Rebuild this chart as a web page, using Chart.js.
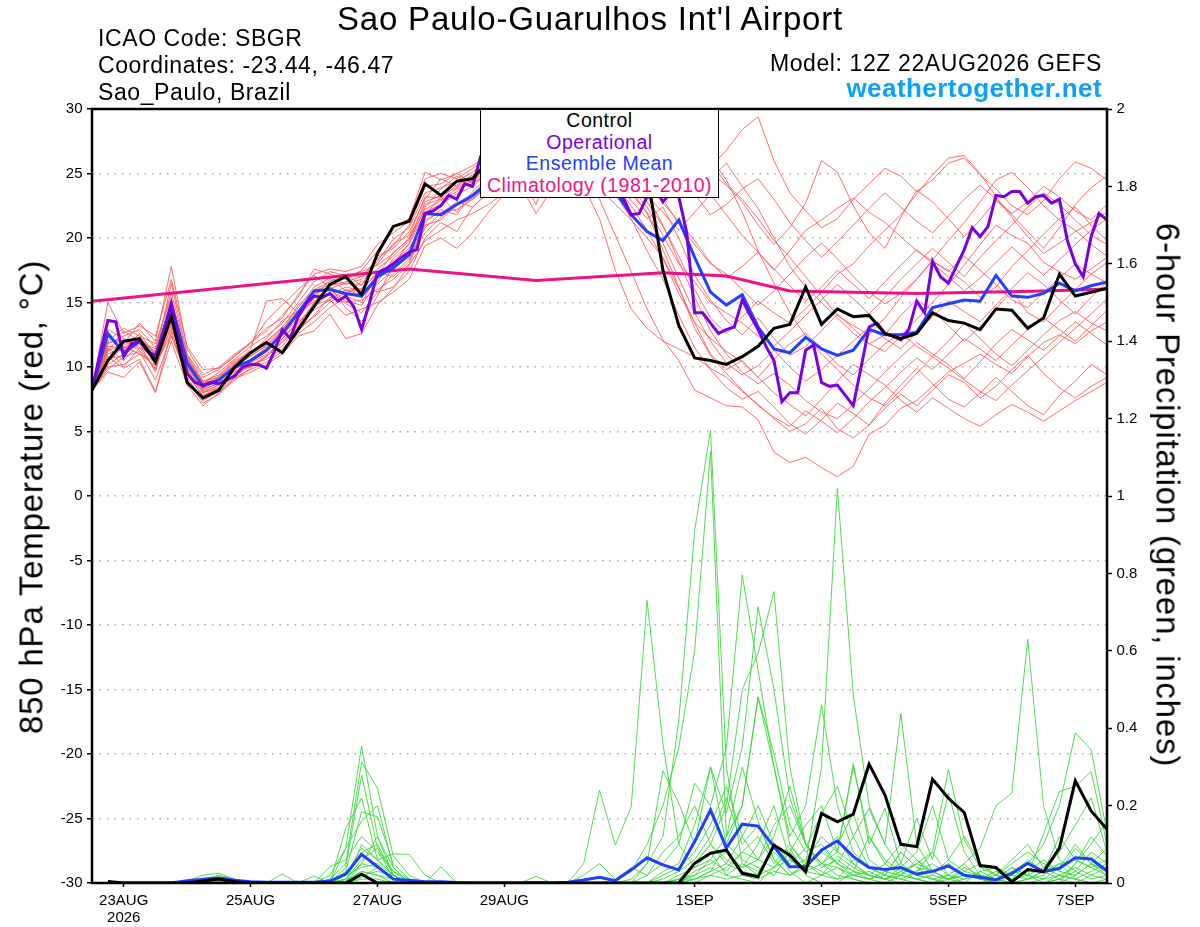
<!DOCTYPE html>
<html>
<head>
<meta charset="utf-8">
<script src="https://cdn.jsdelivr.net/npm/chart.js@4/dist/chart.umd.min.js"></script>
<style>
  html,body{margin:0;padding:0;background:#fff;}
  #wrap{position:relative;width:1200px;height:927px;background:#fff;overflow:hidden;}
  #c{position:absolute;left:0;top:0;}
  .t{position:absolute;font-family:'Liberation Sans',Arial,Helvetica,sans-serif;white-space:nowrap;line-height:1;color:#000;}
  #title{font-size:33px;letter-spacing:0.8px;left:590px;top:2px;transform:translateX(-50%);}
  .hl{font-size:23px;letter-spacing:0.6px;left:98px;}
  .hr{font-size:23px;letter-spacing:0.6px;right:98px;}
  #site{font-size:26px;font-weight:bold;letter-spacing:0.45px;color:#08a2fa;right:98px;top:75px;}
  #legend{position:absolute;left:480px;top:109px;width:239px;height:89px;box-sizing:border-box;border:1.5px solid #000;background:#fff;
          font-family:'Liberation Sans',Arial,Helvetica,sans-serif;font-size:19.5px;letter-spacing:0.5px;line-height:21.67px;text-align:center;}
  .ytl{font-size:33px;letter-spacing:0.8px;}
</style>
</head>
<body>
<div id="wrap">
  <canvas id="c" width="1200" height="927"></canvas>
  <div class="t" id="title">Sao Paulo-Guarulhos Int'l Airport</div>
  <div class="t hl" style="top:27.2px">ICAO Code: SBGR</div>
  <div class="t hl" style="top:53.8px">Coordinates: -23.44, -46.47</div>
  <div class="t hl" style="top:80.5px">Sao_Paulo, Brazil</div>
  <div class="t hr" style="top:51.5px">Model: 12Z 22AUG2026 GEFS</div>
  <div class="t" id="site">weathertogether.net</div>
  <div id="legend">
    <div style="color:#000">Control</div>
    <div style="color:#7a00dc">Operational</div>
    <div style="color:#2040ff">Ensemble Mean</div>
    <div style="color:#ee1288">Climatology (1981-2010)</div>
  </div>
  <div class="t ytl" style="left:31px;top:496.5px;transform:translate(-50%,-50%) rotate(-90deg);">850 hPa Temperature (red, °C)</div>
  <div class="t ytl" style="left:1168px;top:495px;transform:translate(-50%,-50%) rotate(90deg);">6-hour Precipitation (green, inches)</div>
</div>
<script>
// ---------------- DATA ----------------
// time axis: hours after 12Z 22AUG2026 (ensemble every 6 h, operational every 3 h)
const xTickHours  = [12, 60, 108, 156, 228, 276, 324, 372];
const xTickLabels = [['23AUG','2026'], '25AUG', '27AUG', '29AUG', '1SEP', '3SEP', '5SEP', '7SEP'];
const yLeftRange  = [-30, 30];
const yRightRange = [0, 2];

// 850 hPa temperature (°C), 6-hourly
const controlTemp = [8.2,10.5,12.0,12.2,10.4,13.9,8.8,7.6,8.2,10.0,
  11.1,11.9,11.1,12.9,14.7,16.4,17.0,15.6,18.8,20.9,
  21.3,24.2,23.3,24.4,24.6,26.0,26.8,27.2,27.0,27.5,
  27.8,27.3,27.0,26.8,26.3,25.0,17.5,13.2,10.7,10.5,
  10.2,10.8,11.6,13.0,13.3,16.2,13.3,14.5,13.9,14.0,
  12.6,12.2,12.6,14.2,13.6,13.4,12.9,14.5,14.4,13.0,
  13.8,17.2,15.5,15.8,16.1];
const ensMeanTemp = [8.2,12.6,11.1,12.0,10.7,14.9,10.3,8.5,9.0,10.0,
  10.5,11.3,12.6,14.2,15.9,16.0,15.7,15.5,17.0,17.7,
  18.7,21.9,21.8,22.6,23.3,24.3,25.0,25.4,25.6,25.8,
  25.7,25.3,24.6,23.6,21.8,20.5,19.8,21.4,18.5,15.8,
  14.8,15.6,13.1,11.4,11.1,12.3,11.4,10.9,11.3,12.9,
  12.5,12.5,12.7,14.6,14.9,15.2,15.1,17.1,15.5,15.4,
  15.7,16.5,15.9,16.3,16.6];
// operational run, 3-hourly
const operTemp = [8.2,11.0,13.6,13.5,10.8,11.8,12.0,11.2,10.9,12.5,
  14.8,12.0,9.5,8.8,8.6,8.8,8.7,9.0,9.3,10.0,
  10.2,10.2,9.9,11.2,12.9,12.2,13.9,14.9,15.5,15.4,
  15.7,15.1,15.5,14.7,12.9,15.0,17.3,17.6,18.0,18.5,
  18.9,19.1,21.9,22.1,22.5,23.3,23.0,24.2,24.0,26.3,
  26.8,27.2,27.6,27.9,28.1,27.6,27.0,27.4,27.9,27.6,
  27.0,26.4,25.8,25.2,24.4,24.0,23.6,23.1,21.8,21.9,
  23.2,24.0,22.8,23.5,23.2,20.4,14.2,14.2,13.4,12.6,
  12.9,13.1,15.2,14.0,12.9,11.6,10.5,7.3,8.0,8.0,
  11.3,11.7,8.8,8.5,8.6,7.8,7.0,10.0,13.1,13.4,
  12.6,12.4,12.1,12.9,15.1,14.2,18.2,17.0,16.5,17.8,
  19.1,20.8,20.1,20.9,23.3,23.2,23.6,23.6,22.7,23.2,
  23.3,22.7,23.0,19.8,18.0,17.0,20.1,21.9,21.4];
// climatology 1981-2010 (hours, °C)
const climHours  = [0, 120, 168, 216, 240, 264, 312, 360, 384];
const climValues = [15.1, 17.6, 16.7, 17.3, 17.05, 15.9, 15.7, 15.9, 16.05];

// ensemble members, 850 hPa temperature
const tm01 = [8.2,11.8,12.4,12.9,11.5, 15.8,10.9,8.9,9.4,10.5, 11.2,12.0,13.1,14.6,16.2, 16.9,16.4,16.8,18.2,19.9, 20.8,23.5,23.9,24.4,25.1, 26.0,26.8,27.5,27.9,28.3, 28.0,27.4,27.8,28.5,28.9, 28.0,27.1,28.2,27.0,25.5, 26.8,28.4,29.4,26.0,23.5, 22.1,20.8,21.5,23.0,24.2, 25.4,24.8,23.6,24.5,25.8, 26.2,24.9,23.8,22.5,21.8, 22.9,24.6,25.9,25.4,24.5];
const tm02 = [8.2,10.2,11.0,12.2,10.1, 13.0,9.8,8.0,8.6,9.9, 10.6,11.5,12.4,13.8,15.4, 16.0,15.1,14.8,16.6,18.4, 19.5,22.0,22.6,23.4,24.0, 25.0,25.6,26.2,26.9,27.4, 27.8,28.0,27.2,26.5,25.8, 24.2,23.0,21.1,19.5,18.0, 17.2,16.0,14.8,15.9,17.2, 18.5,19.6,18.4,17.0,15.8, 14.9,15.7,16.8,18.2,17.5, 16.6,15.4,16.2,17.8,19.0, 20.3,21.5,22.4,21.0,19.8];
const tm03 = [8.2,12.9,12.2,11.5,10.8, 16.5,11.0,9.2,9.8,10.9, 11.8,13.6,14.8,16.0,17.1, 16.2,14.6,13.5,15.5,17.9, 19.0,21.8,23.2,22.0,23.6, 24.8,25.3,24.2,25.6,26.4, 26.0,25.1,23.0,20.2,17.4, 14.5,12.1,10.5,8.2,7.6, 7.0,6.9,5.9,3.4,2.6, 3.0,2.2,1.5,2.3,4.8, 5.5,6.8,7.4,8.5,9.6, 10.3,11.0,10.2,9.5,10.8, 11.9,12.5,11.8,12.8,13.5];
const tm04 = [8.2,11.5,10.5,11.8,9.6, 14.2,10.0,8.2,8.8,9.7, 10.0,10.8,12.0,13.2,15.0, 15.6,16.2,15.9,17.4,17.0, 18.2,21.0,21.4,22.6,23.0, 24.0,24.9,25.7,26.1,26.5, 26.8,26.0,25.2,24.6,22.9, 21.5,22.4,20.0,17.1,15.2, 13.6,12.5,13.8,12.2,10.9, 11.6,12.8,14.1,13.0,11.8, 12.5,14.0,15.2,14.4,13.2, 12.0,13.1,14.5,15.9,14.2, 13.5,14.8,16.0,17.2,18.1];
const tm05 = [8.2,9.8,10.8,11.2,9.0, 12.4,9.2,7.4,8.1,9.2, 9.8,10.4,11.2,12.6,13.5, 14.6,15.4,16.7,15.8,16.2, 17.4,20.0,21.2,20.5,22.4, 23.5,24.6,25.0,25.8,26.0, 25.2,24.8,24.1,23.4,21.5, 19.0,16.8,14.0,11.5,9.8, 8.4,7.5,8.1,6.9,5.6, 4.8,5.9,7.2,6.4,5.5, 6.8,7.9,7.0,8.2,9.4, 8.8,7.6,8.5,9.8,10.9, 9.5,8.4,7.6,8.5,9.2];
const tm06 = [8.2,12.3,11.8,13.4,12.0, 17.8,11.4,9.4,10.0,11.0, 11.9,12.8,14.0,15.4,17.6, 17.2,16.8,17.5,19.0,20.8, 21.5,25.1,24.5,25.0,24.2, 25.2,26.3,27.0,27.6,27.0, 26.5,27.2,28.1,27.5,26.4, 26.9,25.8,24.5,23.2,25.0, 24.1,22.8,21.0,19.5,20.8, 22.7,26.0,25.1,22.5,20.4, 19.2,21.6,23.7,22.8,21.5, 20.1,21.4,22.9,21.8,20.5, 19.2,20.8,22.6,23.9,24.8];
const tm07 = [8.2,10.8,9.9,10.6,8.1, 12.0,8.6,7.0,8.0,9.1, 9.6,10.2,11.0,12.4,12.8, 14.1,12.2,12.6,14.8,16.1, 17.9,19.8,20.6,21.4,21.9, 22.6,23.5,24.1,21.9,23.8, 24.9,24.0,21.5,17.5,14.5, 13.0,12.0,11.4,10.8,9.9, 9.2,8.1,7.1,6.0,5.0, 5.6,6.8,5.2,4.5,5.5, 7.2,8.6,9.9,8.7,7.5, 6.9,8.0,9.2,8.1,7.0, 6.3,7.8,8.9,10.2,9.4];
const tm08 = [8.2,11.2,12.8,12.0,11.2, 15.0,10.4,8.5,9.2,10.2, 11.4,15.1,15.3,14.2,16.0, 16.6,17.2,16.3,18.6,19.2, 20.5,23.0,24.6,24.0,24.8, 25.6,26.4,26.0,26.8,27.4, 27.2,26.6,26.0,25.1,24.0, 22.8,20.9,18.6,16.0,13.8, 12.6,13.9,15.1,14.2,13.4, 14.5,15.8,17.2,18.0,19.4, 20.6,21.8,23.4,24.9,26.2, 26.4,25.0,23.2,21.6,20.1, 18.8,19.6,20.5,21.2,22.0];
const tm09 = [8.2,10.0,10.2,11.0,10.1, 12.6,9.4,7.8,8.4,9.5, 10.3,11.0,11.9,13.0,13.9, 15.0,15.8,16.0,16.4,17.6, 18.6,20.4,21.6,22.6,23.1, 24.0,24.5,25.2,25.0,25.6, 26.1,25.4,24.9,24.0,23.6, 23.3,21.0,18.2,15.4,12.8, 11.0,9.6,8.7,9.5,8.6, 7.4,6.5,6.0,7.1,8.3, 9.6,10.8,11.9,11.0,10.2, 9.1,10.4,11.8,12.9,12.1, 11.3,12.4,13.5,12.6,11.7];
const tm10 = [8.2,11.0,11.4,12.6,10.9, 13.6,10.8,8.8,9.0,10.0, 10.9,11.6,12.8,14.8,15.9, 16.4,17.0,17.4,17.9,18.8, 20.0,22.6,23.0,23.8,24.4, 25.3,25.9,26.6,27.0,27.8, 27.4,26.9,27.5,28.0,27.3, 26.8,27.0,26.3,25.4,24.6, 25.8,24.0,22.3,20.0,17.8, 16.2,15.0,13.8,12.6,11.8, 11.2,12.4,13.7,15.0,16.4, 17.9,19.5,21.0,20.2,19.6, 18.1,17.4,16.8,17.6,18.5];
const tm11 = [8.2,9.6,9.2,10.4,8.0, 12.8,9.0,7.2,7.9,9.0, 9.9,10.8,12.2,13.6,14.4, 15.2,14.0,14.5,15.0,15.8, 16.8,19.4,20.0,19.2,20.4, 22.0,23.4,24.4,25.1,24.8, 25.5,24.6,23.8,22.6,21.4, 20.0,18.5,16.1,13.4,11.0, 9.8,10.5,9.2,8.0,7.1, 6.2,7.5,8.9,10.2,9.4, 8.6,7.4,6.5,7.6,6.8, 6.0,5.4,6.3,7.1,6.5, 5.8,6.6,7.4,8.1,8.8];
const tm12 = [8.2,12.0,13.0,12.4,11.8, 15.4,10.1,8.1,8.6,9.8, 10.5,11.4,12.5,14.0,15.3, 16.8,15.9,16.1,17.2,18.0, 19.6,22.4,23.8,24.8,24.2, 25.0,26.0,26.5,27.2,27.9, 28.2,27.6,26.8,25.6,24.5, 23.2,22.0,20.6,22.0,23.4, 21.8,20.2,18.9,17.5,19.0, 20.6,21.4,22.3,23.1,22.0, 21.2,20.1,19.0,18.2,17.4, 18.6,17.5,16.4,15.2,14.6, 15.8,16.9,18.0,17.2,16.5];
const tm13 = [8.2,11.6,11.5,12.0,11.4, 14.6,10.6,8.7,9.6,10.6, 11.6,12.4,13.4,15.0,16.6, 17.4,17.1,17.0,18.4,19.4, 21.0,24.0,24.2,25.0,25.6, 26.4,27.2,27.8,28.2,28.6, 28.0,27.7,28.4,29.0,28.1, 27.4,28.8,29.2,27.6,25.9, 24.2,23.0,21.5,19.8,18.5, 17.0,15.5,14.0,13.2,12.5, 13.8,15.4,16.8,18.3,19.8, 21.2,22.8,24.5,25.1,23.9, 22.5,21.4,20.6,19.5,18.6];
const tm14 = [8.2,10.4,11.6,11.0,10.4, 13.4,9.6,8.0,8.4,9.4, 10.2,10.6,11.4,12.8,14.0, 15.4,15.0,15.2,16.0,16.8, 18.0,20.8,21.9,22.8,22.4, 23.6,24.2,24.8,22.6,25.9, 26.3,25.8,25.0,24.0,22.5, 20.6,18.4,15.7,13.5,12.2, 11.2,10.4,9.2,10.6,11.8, 12.6,11.5,10.2,9.4,10.6, 11.8,12.6,11.6,10.8,12.0, 13.4,12.2,11.0,10.1,11.3, 12.5,13.6,14.3,13.4,12.8];
const tm15 = [8.2,15.0,12.6,13.2,12.4, 16.8,11.6,9.8,9.9,10.8, 11.9,13.0,13.8,15.6,17.2, 17.6,17.4,17.8,19.5,20.4, 21.3,24.6,25.0,24.6,25.4, 26.2,26.8,27.4,27.1,27.6, 27.9,28.3,27.6,26.9,26.0, 25.1,24.0,26.5,27.5,26.2, 24.5,22.0,19.0,16.5,14.2, 12.4,11.0,9.8,8.6,7.6, 7.0,8.2,9.5,10.8,9.9, 9.0,8.1,7.4,8.6,9.7, 10.8,11.9,13.0,14.1,15.3];
const tm16 = [8.2,11.4,10.0,11.5,9.8, 13.8,9.9,8.3,8.7,9.6, 10.4,11.2,12.2,13.4,14.8, 15.2,16.0,15.6,17.0,18.2, 19.2,21.4,22.0,22.2,23.0, 24.2,25.0,25.4,25.9,26.2, 26.6,26.2,25.6,25.0,23.9, 22.4,20.2,18.0,16.6,15.0, 14.2,13.4,12.4,11.6,12.8, 14.0,15.2,16.4,15.3,14.1, 15.4,16.8,18.0,19.2,18.1, 17.0,18.5,19.8,21.0,22.4, 23.5,22.6,21.4,20.2,19.5];
const tm17 = [8.2,10.6,10.9,11.9,10.6, 14.0,10.2,8.4,9.1,10.1, 10.8,11.7,12.9,14.4,15.7, 16.2,15.5,15.0,17.1,18.9, 19.9,22.2,22.9,23.6,24.5, 25.4,26.0,26.9,27.3,27.0, 26.4,25.9,25.3,24.4,23.4, 22.0,19.6,16.9,14.2,12.0, 10.3,9.4,10.1,11.3,10.0, 8.9,9.8,10.9,12.0,13.1, 12.2,11.4,12.7,13.9,15.1, 14.3,13.5,14.8,16.1,17.3, 16.4,15.2,14.1,15.4,16.6];
const tm18 = [8.2,12.5,11.3,12.2,11.0, 15.2,10.7,8.6,9.3,10.4, 11.1,12.2,13.6,14.3,15.6, 16.3,16.6,17.0,18.0,19.6, 20.2,23.2,23.1,24.1,24.9, 25.8,26.6,27.3,27.8,28.0, 27.6,28.2,27.8,27.0,26.2, 25.6,26.3,25.0,23.4,21.8, 22.6,23.8,24.6,23.0,21.2, 19.8,18.5,19.7,21.0,22.3, 23.5,22.4,21.3,20.4,21.7, 23.0,24.1,23.0,21.9,22.8, 24.0,23.2,22.1,21.4,22.6];
const tm19 = [8.2,11.9,12.1,11.3,9.9, 13.2,9.5,7.7,8.3,9.3, 10.1,10.9,11.6,13.1,14.6, 15.8,14.9,14.2,15.8,17.2, 18.4,21.2,22.2,21.8,23.4, 24.6,25.4,26.0,26.5,27.1, 26.9,26.2,25.5,24.9,23.7, 21.9,19.1,16.2,13.0,10.9, 9.5,8.2,7.0,6.1,5.4, 6.6,5.8,4.9,6.0,7.3, 8.4,9.6,10.7,9.8,11.0, 12.2,11.4,10.5,11.7,12.9, 13.8,12.9,12.0,13.2,14.4];
const tm20 = [8.2,11.3,11.7,12.3,11.1, 14.4,10.5,8.9,9.2,10.3, 11.0,11.9,13.0,14.1,15.1, 16.1,16.5,16.4,17.6,18.6, 19.8,22.8,23.3,23.9,24.6, 25.5,26.1,26.8,27.4,27.7, 27.1,26.7,26.3,25.4,24.8, 24.1,22.7,21.3,19.8,18.1, 16.9,17.8,18.9,17.6,16.3, 15.1,16.2,17.5,16.4,15.3, 16.6,17.9,19.1,18.0,17.0, 15.9,16.9,18.1,19.3,18.2, 17.1,18.3,19.5,20.6,21.5];
const tempMembers = [tm01,tm02,tm03,tm04,tm05,tm06,tm07,tm08,tm09,tm10,tm11,tm12,tm13,tm14,tm15,tm16,tm17,tm18,tm19,tm20];

// 6-hour precipitation (inches)
const controlPrecip = [null,0.004,0,0,0,0,0,0.005,0.01,0.003,
  0,0,0,0,0,0,0,0.023,0,0,
  0,0,0,0,0,0,0,0,0,0,
  0,0,0,0,0,0,0,0,0.051,0.077,
  0.085,0.025,0.016,0.098,0.072,0.029,0.18,0.158,0.178,0.307,
  0.227,0.10,0.094,0.268,0.219,0.182,0.045,0.04,0.003,0.035,
  0.029,0.09,0.264,0.186,0.139];
const ensMeanPrecip = [null,0.002,0,0,0,0,0.006,0.01,0.013,0.007,
  0.003,0.002,0.002,0.002,0.002,0.005,0.023,0.074,0.042,0.01,
  0.007,0.003,0.003,0.001,0,0,0,0,0.001,0,
  0.002,0.008,0.015,0.006,0.034,0.065,0.047,0.034,0.107,0.189,
  0.09,0.152,0.147,0.094,0.042,0.042,0.085,0.109,0.068,0.04,
  0.035,0.04,0.023,0.03,0.044,0.02,0.015,0.008,0.025,0.051,
  0.029,0.038,0.065,0.062,0.031];

const pm01 = [null,0,0,0,0,0,0,0.01,0.02,0.01, 0,0,0,0,0,0.02,0.09,0.354,0.12,0.02, 0,0,0,0,0,0,0,0,0,0, 0,0,0,0,0.01,0.05,0.12,0.42,0.91,1.17, 0.3,0.05,0.02,0.1,0.03,0,0.02,0.04,0.01,0, 0,0,0.03,0.08,0.02,0,0,0,0,0.01, 0.02,0.05,0.01,0,0];
const pm02 = [null,0,0,0,0,0,0,0.008,0.015,0.005, 0,0,0,0,0,0.01,0.05,0.313,0.245,0.07, 0.02,0,0,0,0,0,0,0,0,0, 0,0.02,0.05,0.01,0.03,0.1,0.2,0.35,0.6,1.115, 0.12,0.2,0.48,0.3,0.1,0.04,0.08,0.12,0.05,0.02, 0.01,0,0,0,0.02,0.05,0.01,0,0,0, 0,0.01,0.03,0.08,0.05];
const pm03 = [null,0,0,0,0,0,0.005,0.02,0.025,0.01, 0,0,0,0,0,0,0.04,0.279,0.09,0.01, 0,0,0,0,0,0,0,0,0,0, 0,0.05,0.24,0.098,0.197,0.73,0.36,0.1,0.04,0.08, 0.02,0.01,0,0.04,0.09,0.02,0,0,0.03,0.01, 0,0,0,0,0,0,0,0.01,0.04,0.02, 0,0,0,0.02,0.04];
const pm04 = [null,0,0,0,0,0,0,0.012,0.015,0.005, 0,0,0,0,0,0,0.03,0.184,0.171,0.05, 0.01,0,0.042,0,0,0,0,0,0,0, 0,0,0,0,0,0.02,0.05,0.1,0.258,0.2, 0.35,0.796,0.55,0.3,0.12,0.2,0.46,0.2,0.08,0.04, 0.02,0.01,0,0,0,0.01,0.02,0,0,0, 0,0,0.02,0.05,0.03];
const pm05 = [null,0,0,0,0,0,0,0.006,0.01,0, 0,0,0.023,0,0,0,0.141,0.22,0.06,0.075, 0.074,0.02,0,0,0,0,0,0,0,0, 0,0,0,0.01,0.04,0.02,0.08,0.12,0.2,0.1, 0.2,0.5,0.593,0.753,0.3,0.1,0.05,0.02,0.01,0, 0,0.02,0.06,0.03,0.01,0,0,0,0.02,0.06, 0.03,0.01,0,0,0.01];
const pm06 = [null,0,0,0,0,0,0,0.004,0.008,0.004, 0,0,0,0,0.018,0,0.09,0.16,0.2,0.04, 0,0,0,0,0,0,0,0,0,0, 0,0,0,0,0,0.05,0.29,0.206,0.1,0.3, 0.18,0.352,0.714,0.5,0.22,0.1,0.05,0.08,0.3,0.12, 0.05,0.02,0.01,0,0,0,0,0,0,0, 0.01,0.04,0.1,0.05,0.02];
const pm07 = [null,0,0,0,0,0,0,0.01,0.012,0.005, 0,0,0,0,0,0.042,0.06,0.12,0.08,0.03, 0.01,0,0,0,0,0,0,0,0.017,0, 0,0,0,0,0,0,0.03,0.05,0.15,0.3, 0.1,0.2,0.481,0.335,0.15,0.08,0.1,0.05,0.12,0.04, 0.02,0.08,0.04,0.01,0,0,0.03,0.01,0,0, 0,0,0.05,0.12,0.07];
const pm08 = [null,0,0,0,0,0,0,0,0.005,0, 0,0,0,0,0,0,0.02,0.08,0.1,0.02, 0,0,0,0,0,0,0,0,0,0, 0,0,0,0,0,0,0,0.02,0.04,0.06, 0.03,0.08,0.12,0.05,0.1,0.05,0.3,1.02,0.486,0.2, 0.1,0.04,0.02,0.01,0,0,0,0,0,0, 0,0.02,0.01,0,0];
const pm09 = [null,0,0,0,0,0,0,0.006,0.01,0.004, 0,0,0,0,0,0,0.01,0.05,0.04,0.01, 0,0,0,0,0,0,0,0,0,0, 0,0,0,0,0,0,0,0,0.03,0.05, 0.08,0.04,0.06,0.15,0.2,0.1,0.05,0.04,0.02,0.01, 0.03,0.05,0.02,0.01,0.02,0.05,0.09,0.2,0.232,0.63, 0.2,0.06,0.03,0.01,0.02];
const pm10 = [null,0,0,0,0,0,0,0,0.004,0, 0,0,0,0,0,0,0.01,0.06,0.09,0.03, 0,0,0,0,0,0,0,0,0,0, 0,0,0,0,0,0,0,0.01,0.05,0.1, 0.05,0.12,0.2,0.1,0.05,0.09,0.18,0.25,0.12,0.193, 0.1,0.438,0.1,0.03,0.05,0.02,0.01,0,0,0, 0,0.01,0.05,0.1,0.16];
const pm11 = [null,0,0,0,0,0,0,0.005,0.008,0, 0,0,0,0,0,0,0,0.1,0.06,0.02, 0,0,0,0,0,0,0,0,0,0, 0,0,0,0,0,0,0,0,0.02,0.04, 0.02,0.05,0.03,0.08,0.04,0.06,0.12,0.08,0.05,0.02, 0.01,0.03,0.05,0.08,0.294,0.111,0.04,0.02,0.01,0.05, 0.1,0.2,0.388,0.344,0.13];
const pm12 = [null,0,0,0,0,0,0,0.003,0.005,0, 0,0,0,0,0,0,0.02,0.04,0.05,0.02, 0,0,0,0,0,0,0,0,0,0, 0,0,0,0,0,0,0,0,0.01,0.03, 0.1,0.06,0.04,0.02,0.08,0.15,0.2,0.08,0.309,0.1, 0.193,0.05,0.167,0.06,0.232,0.08,0.02,0.01,0.04,0.02, 0.128,0.236,0.25,0.288,0.1];
const pm13 = [null,0,0,0,0,0,0,0,0,0, 0,0,0,0,0,0,0.005,0.03,0.02,0.01, 0,0,0,0,0,0,0,0,0,0, 0,0,0,0,0,0,0.01,0.03,0.06,0.12, 0.22,0.1,0.15,0.06,0.02,0.05,0.03,0.01,0.06,0.04, 0.02,0.08,0.04,0.03,0.01,0.02,0.01,0.02,0.05,0.08, 0.05,0.03,0.09,0.05,0.03];
const pm14 = [null,0,0,0,0,0,0,0,0.003,0, 0,0,0,0,0,0,0,0.015,0.04,0.01, 0,0,0,0,0,0,0,0,0,0, 0,0,0,0,0,0,0,0,0.01,0.02, 0.04,0.08,0.06,0.12,0.25,0.1,0.04,0.06,0.03,0.02, 0.01,0.04,0.08,0.2,0.06,0.03,0.02,0.01,0,0.01, 0.03,0.12,0.06,0.04,0.02];
const pm15 = [null,0,0,0,0,0,0,0.002,0.004,0, 0,0,0,0,0,0,0.01,0.02,0.03,0.02, 0,0,0,0,0,0,0,0,0,0, 0,0,0,0,0,0,0,0.01,0.01,0.03, 0.05,0.03,0.02,0.04,0.06,0.04,0.08,0.05,0.02,0.01, 0.02,0.01,0.03,0.05,0.02,0.01,0.03,0.04,0.02,0.01, 0.03,0.05,0.06,0.04,0.06];
const pm16 = [null,0,0,0,0,0,0,0,0,0, 0,0,0,0,0,0,0,0.01,0.01,0, 0,0,0,0,0,0,0,0,0,0, 0,0,0,0,0,0,0,0,0,0.02, 0.01,0.02,0.01,0.03,0.02,0.05,0.02,0.01,0.02,0.03, 0.01,0.02,0.01,0,0.01,0.02,0.01,0.03,0.01,0.02, 0.01,0.02,0.04,0.02,0.01];
const pm17 = [null,0,0,0,0,0,0,0.007,0.012,0.006, 0,0,0,0,0,0,0.02,0.09,0.06,0.02, 0,0,0,0,0,0,0,0,0,0, 0,0,0,0,0,0,0.02,0.04,0.08,0.15, 0.25,0.12,0.06,0.04,0.08,0.03,0.05,0.1,0.18,0.06, 0.03,0.02,0.05,0.03,0.01,0.04,0.02,0.01,0.03,0.02, 0.04,0.08,0.15,0.22,0.08];
const pm18 = [null,0,0,0,0,0,0,0.004,0.009,0.003, 0,0,0,0,0,0,0,0.05,0.12,0.04, 0,0,0,0,0,0,0,0,0,0, 0,0,0,0,0,0,0,0.01,0.02,0.06, 0.12,0.3,0.16,0.06,0.02,0.04,0.09,0.05,0.03,0.12, 0.06,0.03,0.01,0.02,0.06,0.12,0.05,0.02,0.01,0.03, 0.06,0.03,0.02,0.05,0.09];
const pm19 = [null,0,0,0,0,0,0,0,0.003,0, 0,0,0,0,0,0,0,0.03,0.02,0, 0,0,0,0,0,0,0,0,0,0, 0,0,0,0,0,0,0,0,0.05,0.1, 0.06,0.04,0.1,0.2,0.06,0.03,0.02,0.07,0.04,0.02, 0.05,0.1,0.06,0.02,0.01,0.03,0.05,0.02,0.06,0.1, 0.04,0.02,0.01,0.03,0.05];
const precipMembers = [pm01,pm02,pm03,pm04,pm05,pm06,pm07,pm08,pm09,pm10,pm11,pm12,pm13,pm14,pm15,pm16,pm17,pm18,pm19];

const ENS_STEP = 6, OPER_STEP = 3, X_MAX = 384;

// ---------------- CHART ----------------
const FONT = "'Liberation Sans', Arial, Helvetica, sans-serif";
const C_BLACK = '#000000', C_PURPLE = '#7a00dc', C_BLUE = '#2040ff', C_PINK = '#ee1288';
const C_RED = '#ff5a5a', C_GREEN = '#3ad83a';

function pts(values, step) { return values.map((v, i) => ({ x: i * step, y: v })); }
function line(label, data, color, width, axis) {
  return { label, data, borderColor: color, backgroundColor: color, borderWidth: width,
           pointRadius: 0, tension: 0, fill: false, yAxisID: axis, spanGaps: false };
}

const datasets = [];
// index 0 drawn on top
datasets.push(line('Control', pts(controlTemp, ENS_STEP), C_BLACK, 3, 'y'));
datasets.push(line('Control precip', pts(controlPrecip, ENS_STEP), C_BLACK, 3, 'y1'));
datasets.push(line('Operational', pts(operTemp, OPER_STEP), C_PURPLE, 3, 'y'));
datasets.push(line('Ensemble Mean', pts(ensMeanTemp, ENS_STEP), C_BLUE, 3, 'y'));
datasets.push(line('Ensemble Mean precip', pts(ensMeanPrecip, ENS_STEP), C_BLUE, 3, 'y1'));
datasets.push(line('Climatology', climHours.map((h, i) => ({ x: h, y: climValues[i] })), C_PINK, 3, 'y'));
tempMembers.forEach((m, k) => datasets.push(line('T member ' + (k + 1), pts(m, ENS_STEP), C_RED, 0.9, 'y')));
precipMembers.forEach((m, k) => datasets.push(line('P member ' + (k + 1), pts(m, ENS_STEP), C_GREEN, 0.9, 'y1')));

const framePlugin = {
  id: 'frame',
  afterDatasetsDraw(chart) {
    const { ctx, chartArea: a } = chart;
    ctx.save();
    ctx.strokeStyle = '#000';
    ctx.lineWidth = 2.5;
    ctx.strokeRect(a.left, a.top, a.right - a.left, a.bottom - a.top);
    ctx.restore();
  }
};

const tickFont = { family: FONT, size: 15 };

new Chart(document.getElementById('c'), {
  type: 'line',
  data: { datasets },
  plugins: [framePlugin],
  options: {
    responsive: false,
    animation: false,
    devicePixelRatio: 1,
    layout: { padding: { top: 109, left: 0, right: 0, bottom: 0 } },
    plugins: { legend: { display: false }, tooltip: { enabled: false }, title: { display: false } },
    scales: {
      x: {
        type: 'linear', min: 0, max: X_MAX,
        afterBuildTicks: s => { s.ticks = xTickHours.map(v => ({ value: v })); },
        afterFit: s => { s.height = 44; },
        ticks: {
          autoSkip: false, maxRotation: 0, minRotation: 0, color: '#000', padding: 5,
          font: { family: FONT, size: 15, lineHeight: 1.15 },
          callback: v => { const k = xTickHours.indexOf(v); return k >= 0 ? xTickLabels[k] : ''; }
        },
        grid: { drawOnChartArea: false, drawTicks: true, tickLength: 4, tickColor: '#000', tickWidth: 1.5 },
        border: { display: false }
      },
      y: {
        position: 'left', min: yLeftRange[0], max: yLeftRange[1],
        afterFit: s => { s.width = 92; },
        ticks: { stepSize: 5, color: '#000', padding: 4.5, font: tickFont },
        grid: { color: '#a8a8a8', lineWidth: 1.5, drawTicks: true, tickLength: 5, tickColor: '#000', tickWidth: 1.5 },
        border: { display: false, dash: [1.5, 6] }
      },
      y1: {
        position: 'right', min: yRightRange[0], max: yRightRange[1],
        afterFit: s => { s.width = 93; },
        ticks: { stepSize: 0.2, color: '#000', padding: 4.5, font: tickFont,
                 callback: v => String(Math.round(v * 10) / 10) },
        grid: { drawOnChartArea: false, drawTicks: true, tickLength: 5, tickColor: '#000', tickWidth: 1.5 },
        border: { display: false }
      }
    }
  }
});
</script>
</body>
</html>
